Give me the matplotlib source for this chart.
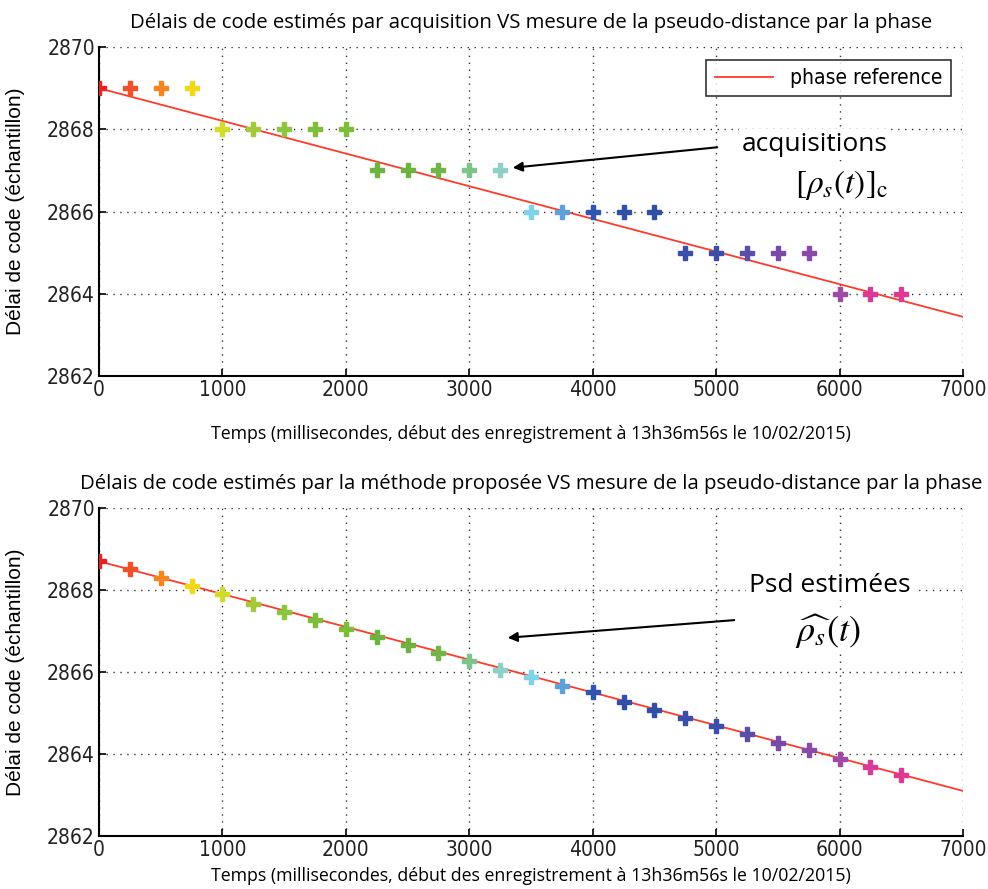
import numpy as np
import matplotlib
matplotlib.use('Agg')
import matplotlib.pyplot as plt

# --- data ---
t_ms = [0, 250, 500, 750, 1000, 1250, 1500, 1750, 2000, 2250, 2500, 2750, 3000,
        3250, 3500, 3750, 4000, 4250, 4500, 4750, 5000, 5250, 5500, 5750, 6000,
        6250, 6500]
acq_delay = [2869, 2869, 2869, 2869, 2868, 2868, 2868, 2868, 2868, 2867, 2867,
             2867, 2867, 2867, 2866, 2866, 2866, 2866, 2866, 2865, 2865, 2865,
             2865, 2865, 2864, 2864, 2864]
est_delay = [2868.71, 2868.51, 2868.29, 2868.09, 2867.89, 2867.65, 2867.46,
             2867.27, 2867.06, 2866.85, 2866.67, 2866.47, 2866.27, 2866.06,
             2865.87, 2865.67, 2865.50, 2865.28, 2865.08, 2864.89, 2864.69,
             2864.48, 2864.28, 2864.09, 2863.88, 2863.69, 2863.49]
ref_t = [0, 7000]
ref_top = [2869.0, 2863.44]
ref_bot = [2868.70, 2863.10]
point_colors = ['#e8231f', '#f0502a', '#f5861f', '#f0d817', '#d2db2a', '#a6c93a',
                '#8cc63f', '#7dbd3a', '#7dbd3a', '#6db33f', '#6db33f', '#70b545',
                '#7ec38a', '#8ed0c8', '#7fd3ea', '#5fa0d8', '#2f55b0', '#3050a8',
                '#3050a8', '#3b4fa8', '#3b4fa8', '#5a4fa8', '#7a4aa8', '#8a4aa8',
                '#a04aa8', '#d83a9a', '#e03a90']

tick_font = ['Liberation Sans Narrow', 'DejaVu Sans']
text_font = 'Open Sans'
plt.rcParams['mathtext.fontset'] = 'stix'

fig = plt.figure(figsize=(9.88, 8.89), dpi=100)
ax1 = fig.add_axes([0.1002, 0.577, 0.8745, 0.370])
ax2 = fig.add_axes([0.1002, 0.0596, 0.8745, 0.369])


def style_axes(ax, title):
    ax.set_xlim(0, 7000)
    ax.set_ylim(2862, 2870)
    ax.set_xticks(range(0, 7001, 1000))
    ax.set_yticks(range(2862, 2871, 2))
    ax.grid(True, linestyle=(0, (1, 4)), color='#333333', linewidth=1.0)
    ax.spines['top'].set_visible(False)
    ax.spines['right'].set_visible(False)
    ax.spines['left'].set_linewidth(1.5)
    ax.spines['bottom'].set_linewidth(1.5)
    ax.tick_params(direction='in', length=5, labelsize=15, width=1.2, pad=3)
    for lab in ax.get_xticklabels() + ax.get_yticklabels():
        lab.set_fontfamily(tick_font)
        lab.set_fontstretch('condensed')
        lab.set_color('#222222')
    ax.set_title(title, fontsize=14.7, family=text_font, pad=14)
    ax.set_ylabel('Délai de code (échantillon)', fontsize=15, family='Liberation Sans')
    ax.yaxis.set_label_coords(-0.086, 0.5)
    ax.set_xlabel('Temps (millisecondes, début des enregistrement à 13h36m56s le 10/02/2015)',
                  fontsize=12.8, family=text_font, labelpad=5)


# top panel
ax1.plot(ref_t, ref_top, color='#ff3a2a', lw=1.3, label='phase reference', zorder=2)
for t, v, c in zip(t_ms, acq_delay, point_colors):
    ax1.plot(t, v, marker='P', ms=10.5, color=c, mec=c, ls='none', zorder=3)
style_axes(ax1, 'Délais de code estimés par acquisition VS mesure de la pseudo-distance par la phase')
ax1.xaxis.labelpad = 18
leg = ax1.legend(loc='upper right', frameon=True, fancybox=False,
                 handlelength=2.8, borderaxespad=0.6,
                 prop={'family': tick_font, 'size': 15, 'stretch': 'condensed'})
leg.get_frame().set_edgecolor('black')
leg.get_frame().set_linewidth(1.2)

box = dict(facecolor='white', edgecolor='none', pad=2)
ax1.annotate('', xy=(3330, 2867.06), xytext=(5031, 2867.57),
             arrowprops=dict(arrowstyle='-|>', color='black', lw=1.5, mutation_scale=14))
ax1.text(5800, 2867.64, 'acquisitions', fontsize=19, family=text_font, ha='center',
         va='center', bbox=box)
ax1.text(6020, 2866.64, r'$[\rho_s(t)]_{\mathrm{c}}$', fontsize=24, ha='center',
         va='center', bbox=box)

# bottom panel
ax2.plot(ref_t, ref_bot, color='#ff3a2a', lw=1.3, zorder=2)
for t, v, c in zip(t_ms, est_delay, point_colors):
    ax2.plot(t, v, marker='P', ms=10.5, color=c, mec=c, ls='none', zorder=3)
style_axes(ax2, 'Délais de code estimés par la méthode proposée VS mesure de la pseudo-distance par la phase')
ax2.annotate('', xy=(3289, 2866.83), xytext=(5169, 2867.27),
             arrowprops=dict(arrowstyle='-|>', color='black', lw=1.5, mutation_scale=14))
ax2.text(5922, 2868.12, 'Psd estimées', fontsize=19, family=text_font, ha='center',
         va='center', bbox=box)
ax2.text(5906, 2866.98, r'$\widehat{\rho_s}(t)$', fontsize=26, ha='center',
         va='center', bbox=box)

fig.savefig('out.png', dpi=100)
